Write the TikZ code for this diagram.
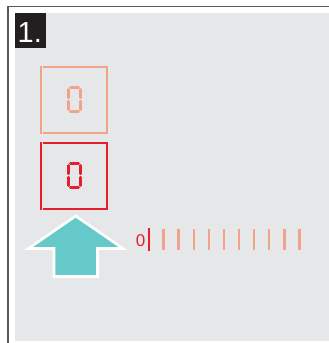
\documentclass[tikz,border=0pt]{standalone}
\usepackage{fontspec}
\setmainfont{Liberation Sans}
\definecolor{bggray}{HTML}{E6E7E9}
\definecolor{framegray}{HTML}{5A5A5A}
\definecolor{salmon}{HTML}{EFA48A}
\definecolor{dred}{HTML}{E5202E}
\definecolor{teal}{HTML}{66C9C9}
\definecolor{labelblack}{HTML}{231F20}
\tikzset{
  seg/.style={line width=2.4pt, line cap=round},
  boxline/.style={line width=2pt},
  tickmark/.style={line width=2.4pt, salmon},
}
\newcommand{\segdigit}[3]{% center x, center y, color
  \begin{scope}[shift={(#1,#2)}]
    \draw[seg,#3] (-4.2,-12) -- (4.2,-12);
    \draw[seg,#3] (-4.2,12) -- (4.2,12);
    \draw[seg,#3] (-6,-10.2) -- (-6,-1.6);
    \draw[seg,#3] (-6,1.6) -- (-6,10.2);
    \draw[seg,#3] (6,-10.2) -- (6,-1.6);
    \draw[seg,#3] (6,1.6) -- (6,10.2);
  \end{scope}}
\newcommand{\bracketbox}[5]{% x0,y0,x1,y1,color
  \draw[boxline,#5] (#1,#2) -- (#1,#4);
  \draw[boxline,#5] (#3,#2) -- (#3,#4);
  \draw[boxline,#5] (#1+1.5,#2+1) -- (#3-1.5,#2+1);
  \draw[boxline,#5] (#1+1.5,#4-1) -- (#3-1.5,#4-1);}
\begin{document}
\begin{tikzpicture}[x=1pt,y=-1pt]
\useasboundingbox (0,0) rectangle (329,343);
% frame
\fill[bggray] (15,13) rectangle (329,341);
\draw[framegray,line width=1.6pt] (7.8,343) -- (7.8,6.6) -- (329,6.6);
% label
\fill[labelblack] (15,13) rectangle (46,47.5);
\node[text=white,font=\fontsize{29}{29}\selectfont,inner sep=0pt,anchor=base west] (lbl) at (17.5,42.5) {1.};
% upper box
\bracketbox{41}{66}{107}{134}{salmon}
\segdigit{74.5}{99.5}{salmon}
% lower box
\bracketbox{41}{142}{107}{210}{dred}
\segdigit{74.5}{175.5}{dred}
% arrow
\draw[white,line width=2.6pt,fill=teal,line join=miter]
  (75.7,216) -- (123,248.5) -- (97.5,248.5) -- (97.5,276.5) -- (54,276.5) -- (54,248.5) -- (28.5,248.5) -- cycle;
% scale
\node[text=dred,font=\fontsize{17}{17}\selectfont,inner sep=0pt,anchor=base east] (zero) at (145.5,246) {0};
\draw[dred,line width=2.4pt] (148.7,228) -- (148.7,251);
\foreach \i in {0,...,9}{
  \draw[tickmark] (163.5+15.1*\i,229) -- (163.5+15.1*\i,249.5);
}
\end{tikzpicture}
\end{document}
